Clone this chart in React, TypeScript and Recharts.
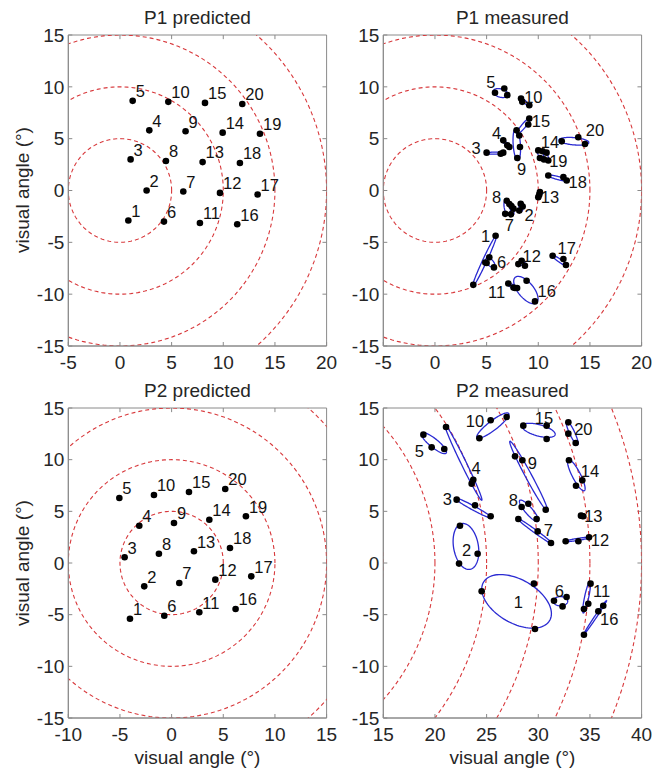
import React from "react";
import { ComposedChart, Scatter, Line, XAxis, YAxis, ReferenceArea, ReferenceLine } from "recharts";

type Pt = [number, number];
type Ell = [number, number, number, number, number]; // cx, cy, a, b, angle (deg)

const RINGS = [5, 10, 15, 20, 25, 30, 35, 40];
const Y_TICKS = [-15, -10, -5, 0, 5, 10, 15];
const P1_X_TICKS = [-5, 0, 5, 10, 15, 20];
const P2_PRED_X_TICKS = [-10, -5, 0, 5, 10, 15];
const P2_MEAS_X_TICKS = [15, 20, 25, 30, 35, 40];

const ALL_IDS = [1, 2, 3, 4, 5, 6, 7, 8, 9, 10, 11, 12, 13, 14, 15, 16, 17, 18, 19, 20];

const P1_PRED: Pt[] = [
  [0.81, -2.9], [2.58, 0], [1.03, 3.0], [2.84, 5.8], [1.23, 8.65],
  [4.26, -3.0], [6.13, -0.1], [4.45, 2.84], [6.35, 5.71], [4.68, 8.55],
  [7.74, -3.13], [9.68, -0.23], [8.0, 2.74], [9.94, 5.58], [8.23, 8.45],
  [11.35, -3.26], [13.32, -0.39], [11.61, 2.65], [13.55, 5.48], [11.84, 8.35],
];

const P2_PRED: Pt[] = [
  [-4.03, -5.39], [-2.65, -2.26], [-4.55, 0.55], [-3.13, 3.61], [-5.06, 6.29],
  [-0.71, -5.1], [0.74, -1.94], [-1.23, 0.9], [0.23, 3.87], [-1.71, 6.58],
  [2.68, -4.77], [4.23, -1.61], [2.16, 1.13], [3.65, 4.19], [1.68, 6.87],
  [6.19, -4.45], [7.71, -1.29], [5.65, 1.45], [7.19, 4.52], [5.19, 7.16],
];

// P1 measured: three fixations per target
const P1_MEAS: Pt[][] = [
  [[5.87, -4.36], [4.87, -6.94], [3.71, -9.1]],
  [[8.3, -1.29], [8.49, -1.55], [8.16, -1.94]],
  [[5.0, 3.65], [6.36, 3.55], [6.61, 3.65]],
  [[6.61, 4.84], [7.0, 4.36], [7.2, 4.2]],
  [[5.81, 9.43], [6.71, 9.84], [7.0, 9.2]],
  [[5.26, -6.45], [5.71, -7.42], [5.0, -7.0]],
  [[7.4, -1.5], [7.6, -1.75], [7.35, -2.3]],
  [[6.95, -1.0], [7.2, -1.3], [6.8, -2.25]],
  [[7.9, 5.8], [8.23, 4.2], [7.97, 3.13]],
  [[8.33, 8.87], [8.45, 8.55], [9.13, 8.23]],
  [[7.1, -8.97], [7.6, -9.35], [7.75, -9.4]],
  [[8.07, -7.1], [8.39, -6.78], [8.71, -7.26]],
  [[10.16, -0.16], [10.0, -0.64], [10.1, -0.4]],
  [[10.0, 3.87], [10.42, 3.78], [10.16, 3.13]],
  [[9.13, 6.94], [9.03, 6.36], [8.16, 5.3]],
  [[8.87, -8.71], [9.68, -10.7], [7.95, -9.4]],
  [[11.39, -6.29], [12.43, -6.61], [12.68, -7.19]],
  [[10.97, 1.45], [12.43, 1.29], [12.75, 0.97]],
  [[10.8, 3.65], [10.97, 2.9], [10.55, 3.0]],
  [[12.27, 4.74], [13.87, 5.13], [14.52, 4.49]],
];

const P1_ELLIPSES: Ell[] = [
  [4.8, -6.8, 2.75, 0.2, 65], [8.3, -1.6, 0.4, 0.15, -70], [5.85, 3.6, 0.95, 0.1, 0],
  [6.9, 4.5, 0.6, 0.12, -45], [6.35, 9.4, 0.75, 0.4, -15], [5.35, -6.95, 0.55, 0.3, -45],
  [7.45, -1.85, 0.5, 0.15, -75], [7.0, -1.6, 0.75, 0.3, -80], [7.92, 4.43, 1.55, 0.35, 94],
  [8.7, 8.55, 0.7, 0.12, -42], [7.45, -9.2, 0.45, 0.15, -25], [8.4, -7.02, 0.4, 0.18, -15],
  [10.08, -0.4, 0.3, 0.1, 70], [10.2, 3.6, 0.4, 0.25, -60], [8.6, 6.25, 1.05, 0.2, 50],
  [8.8, -9.6, 1.6, 0.75, -50], [12.05, -6.75, 0.85, 0.15, -35], [11.9, 1.2, 1.0, 0.15, -15],
  [10.75, 3.25, 0.4, 0.2, -70], [13.45, 4.75, 1.45, 0.35, -5],
];

const P1_LABELS: Pt[] = [
  [4.9, -4.35], [9.1, -2.35], [3.97, 4.13], [5.97, 5.59], [5.42, 10.49],
  [6.45, -6.93], [7.19, -3.32], [5.97, -0.64], [8.39, 2.03], [9.52, 9.04],
  [5.97, -9.77], [9.36, -6.29], [11.13, -0.64], [11.13, 4.68], [10.26, 6.68],
  [10.81, -9.68], [12.75, -5.58], [13.81, 0.81], [11.94, 2.85], [15.49, 5.81],
];

const P2_MEAS_IDS = [1, 2, 3, 4, 5, 6, 7, 8, 9, 10, 11, 12, 13, 14, 15, 16, 20];

const P2_MEAS: Pt[][] = [
  [[24.52, -2.74], [29.58, -2.0], [29.68, -6.39]],
  [[22.42, 3.61], [24.13, 0.9], [22.33, -0.06]],
  [[22.1, 6.13], [23.88, 5.58], [25.39, 4.52]],
  [[21.07, 13.16], [23.71, 8.06], [23.55, 7.68]],
  [[18.88, 12.42], [19.68, 11.19], [20.9, 11.03]],
  [[31.52, -3.65], [32.35, -4.2], [32.74, -3.29]],
  [[28.07, 4.26], [29.94, 3.06], [31.23, 1.94]],
  [[28.39, 5.42], [29.04, 5.74], [29.84, 4.26]],
  [[27.75, 10.32], [28.46, 9.94], [30.72, 5.16]],
  [[25.39, 13.81], [26.94, 14.13], [24.3, 12.07]],
  [[35.06, -2.0], [34.84, -3.94], [34.42, -4.45]],
  [[32.65, 2.1], [33.88, 2.1], [34.91, 2.48]],
  [[34.13, 4.58], [34.36, 4.52], [34.25, 4.55]],
  [[32.97, 9.94], [34.26, 8.0], [33.65, 7.48]],
  [[28.55, 13.29], [30.81, 13.29], [30.81, 12.0]],
  [[36.29, -4.13], [35.81, -4.68], [34.42, -6.94]],
  [[32.91, 13.61], [32.91, 12.52], [33.62, 11.61]],
];

const P2_ELLIPSES: Ell[] = [
  [27.9, -3.71, 3.7, 2.1, -30], [23.0, 1.6, 2.25, 1.2, 100], [23.7, 5.33, 2.05, 0.2, -28.5],
  [22.75, 9.73, 4.07, 0.25, -64], [19.9, 11.6, 1.53, 0.42, -39], [32.15, -3.7, 0.7, 0.45, 0],
  [29.69, 3.07, 2.2, 0.15, -36], [29.1, 5.05, 1.35, 0.35, -49], [29.08, 8.39, 3.85, 0.3, -61.7],
  [25.6, 13.3, 1.93, 0.45, 37.5], [34.68, -3.31, 1.56, 0.2, 78], [33.8, 2.28, 1.2, 0.1, 9],
  [34.25, 4.55, 0.2, 0.1, 0], [33.68, 8.5, 1.69, 0.4, -62.7], [30.04, 12.84, 1.65, 0.55, -15],
  [35.5, -5.28, 2.0, 0.1, 56], [33.28, 12.58, 1.25, 0.25, -65],
];

const P2_LABELS: Pt[] = [
  [28.07, -3.81], [23.07, 1.29], [21.2, 6.19], [23.97, 9.19], [18.49, 10.81],
  [32.03, -2.74], [30.97, 3.23], [27.59, 6.07], [29.43, 9.68], [23.88, 13.71],
  [36.13, -2.74], [35.97, 2.19], [35.33, 4.58], [35.0, 8.87], [30.55, 14.03],
  [36.87, -5.42], [34.36, 12.97],
];

const FRAME = "#8a8a8a";
const TEXT = "#262626";
const RED = "#d8393c";
const BLUE = "#2a2ad2";
const FONT = "Arial, 'Liberation Sans', sans-serif";

// outline of a rotated ellipse (or ring) in data units
function outline(cx: number, cy: number, a: number, b: number, deg: number, steps = 96) {
  const t = (deg * Math.PI) / 180;
  const pts: { x: number; y: number }[] = [];
  for (let i = 0; i <= steps; i++) {
    const u = (i / steps) * 2 * Math.PI;
    const ex = a * Math.cos(u);
    const ey = b * Math.sin(u);
    pts.push({ x: cx + ex * Math.cos(t) - ey * Math.sin(t), y: cy + ex * Math.sin(t) + ey * Math.cos(t) });
  }
  return pts;
}

const YW = 40;
const XH = 30;
const TICK_LEN = 0.4; // inward tick length on the mirrored sides, data units

interface PanelProps {
  title: string;
  left: number;
  top: number;
  width: number;
  height: number;
  plot: { left: number; top: number; w: number; h: number };
  xDomain: [number, number];
  xTicks: number[];
  predicted?: Pt[];
  measured?: Pt[][];
  ellipses?: Ell[];
  labels?: Pt[];
  ids: number[];
}

function Panel(p: PanelProps) {
  const margin = {
    top: p.plot.top,
    left: p.plot.left - YW,
    right: p.width - p.plot.left - p.plot.w,
    bottom: p.height - p.plot.top - p.plot.h - XH,
  };
  const [x0, x1] = p.xDomain;
  const predData = (p.predicted || []).map(([x, y], i) => ({ x, y, id: p.ids[i] }));
  const measData = (p.measured || []).flat().map(([x, y]) => ({ x, y }));
  const labelData = (p.labels || []).map(([x, y], i) => ({ x, y, id: p.ids[i] }));
  const tick = { fill: TEXT, fontSize: 19, fontFamily: FONT };

  return (
    <div style={{ position: "absolute", left: p.left, top: p.top, width: p.width, height: p.height }}>
      <div
        style={{
          position: "absolute",
          left: p.plot.left + p.plot.w / 2 - 100,
          top: p.plot.top - 28,
          width: 200,
          height: 22,
          lineHeight: "22px",
          textAlign: "center",
          fontSize: 19,
          color: TEXT,
        }}
      >
        {p.title}
      </div>
      <ComposedChart width={p.width} height={p.height} margin={margin}>
        <XAxis
          type="number"
          dataKey="x"
          domain={p.xDomain}
          ticks={p.xTicks}
          interval={0}
          allowDataOverflow
          height={XH}
          tickSize={-4}
          tickMargin={14}
          stroke={FRAME}
          tick={tick}
        />
        <YAxis
          type="number"
          dataKey="y"
          domain={[-15, 15]}
          ticks={Y_TICKS}
          interval={0}
          allowDataOverflow
          width={YW}
          tickSize={-4}
          tickMargin={8}
          stroke={FRAME}
          tick={tick}
        />
        <ReferenceArea x1={x0} x2={x1} y1={-15} y2={15} fill="none" stroke={FRAME} strokeWidth={1} />
        {p.xTicks.slice(1, -1).map((t) => (
          <ReferenceLine key={"tt" + t} segment={[{ x: t, y: 15 }, { x: t, y: 15 - TICK_LEN }]} stroke={FRAME} />
        ))}
        {Y_TICKS.slice(1, -1).map((t) => (
          <ReferenceLine key={"rt" + t} segment={[{ x: x1, y: t }, { x: x1 - TICK_LEN, y: t }]} stroke={FRAME} />
        ))}
        {RINGS.map((r) => (
          <Line
            key={"ring" + r}
            data={outline(0, 0, r, r, 0, 180)}
            dataKey="y"
            type="linear"
            stroke={RED}
            strokeWidth={1.1}
            strokeDasharray="4 3"
            dot={false}
            activeDot={false}
            isAnimationActive={false}
          />
        ))}
        {(p.ellipses || []).map((e, i) => (
          <Line
            key={"ell" + i}
            data={outline(e[0], e[1], e[2], e[3], e[4])}
            dataKey="y"
            type="linear"
            stroke={BLUE}
            strokeWidth={1.3}
            dot={false}
            activeDot={false}
            isAnimationActive={false}
          />
        ))}
        {predData.length > 0 && (
          <Scatter
            data={predData}
            isAnimationActive={false}
            shape={(s: any) => (
              <g>
                <circle cx={s.cx} cy={s.cy} r={3.3} fill="#000" />
                <text x={s.cx + 3} y={s.cy - 8} dominantBaseline="middle" fontSize={16.5} fill="#111">
                  {s.payload.id}
                </text>
              </g>
            )}
          />
        )}
        {measData.length > 0 && (
          <Scatter
            data={measData}
            isAnimationActive={false}
            shape={(s: any) => <circle cx={s.cx} cy={s.cy} r={3.3} fill="#000" />}
          />
        )}
        {labelData.length > 0 && (
          <Scatter
            data={labelData}
            isAnimationActive={false}
            shape={(s: any) => (
              <text x={s.cx} y={s.cy} textAnchor="middle" dominantBaseline="central" fontSize={16.5} fill="#111">
                {s.payload.id}
              </text>
            )}
          />
        )}
      </ComposedChart>
    </div>
  );
}

const axisTitle: React.CSSProperties = {
  position: "absolute",
  width: 200,
  height: 22,
  lineHeight: "22px",
  textAlign: "center",
  fontSize: 19,
  color: TEXT,
};

export default function App() {
  const topPlotL = { left: 68.3, top: 35, w: 258.3, h: 311 };
  const topPlotR = { left: 53.3, top: 35, w: 258.3, h: 311 };
  const botPlotL = { left: 68.3, top: 28, w: 258.3, h: 310 };
  const botPlotR = { left: 53.3, top: 28, w: 258.3, h: 310 };
  return (
    <div
      style={{
        position: "absolute",
        left: 0,
        top: 0,
        width: 663,
        height: 772,
        background: "#fff",
        fontFamily: FONT,
      }}
    >
      <Panel title="P1 predicted" left={0} top={0} width={345} height={380} plot={topPlotL}
        xDomain={[-5, 20]} xTicks={P1_X_TICKS} predicted={P1_PRED} ids={ALL_IDS} />
      <Panel title="P1 measured" left={330} top={0} width={333} height={380} plot={topPlotR}
        xDomain={[-5, 20]} xTicks={P1_X_TICKS} measured={P1_MEAS} ellipses={P1_ELLIPSES}
        labels={P1_LABELS} ids={ALL_IDS} />
      <Panel title="P2 predicted" left={0} top={380} width={345} height={392} plot={botPlotL}
        xDomain={[-10, 15]} xTicks={P2_PRED_X_TICKS} predicted={P2_PRED} ids={ALL_IDS} />
      <Panel title="P2 measured" left={330} top={380} width={333} height={392} plot={botPlotR}
        xDomain={[15, 40]} xTicks={P2_MEAS_X_TICKS} measured={P2_MEAS} ellipses={P2_ELLIPSES}
        labels={P2_LABELS} ids={P2_MEAS_IDS} />
      <div style={{ ...axisTitle, left: 23 - 100, top: 190 - 11, transform: "rotate(-90deg)" }}>
        visual angle (°)
      </div>
      <div style={{ ...axisTitle, left: 23 - 100, top: 563 - 11, transform: "rotate(-90deg)" }}>
        visual angle (°)
      </div>
      <div style={{ ...axisTitle, left: 197.5 - 100, top: 758 - 11 }}>visual angle (°)</div>
      <div style={{ ...axisTitle, left: 512.5 - 100, top: 758 - 11 }}>visual angle (°)</div>
    </div>
  );
}
